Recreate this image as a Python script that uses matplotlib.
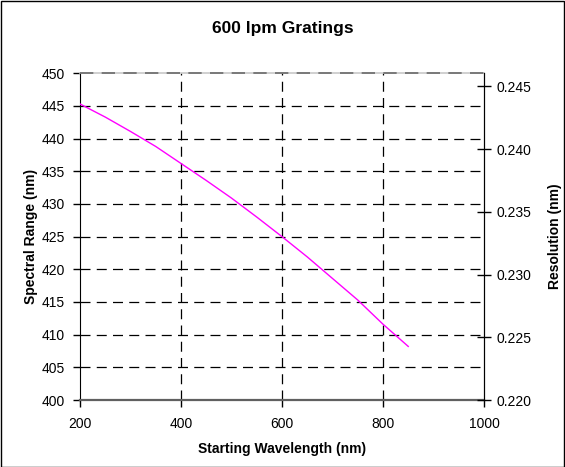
import matplotlib
matplotlib.use("Agg")
import matplotlib.pyplot as plt
from matplotlib.patches import Rectangle

plt.rcParams['font.family'] = ['Liberation Sans', 'DejaVu Sans']

wavelength = [200, 250, 300, 350, 400, 450, 500, 550, 600, 650, 700, 750, 800, 850]
spectral_range = [445.3, 443.3, 441.1, 438.8, 436.2, 433.6, 430.9, 428.0, 425.0,
                  421.9, 418.6, 415.3, 411.6, 408.2]
x_ticks = [200, 400, 600, 800, 1000]
left_ticks = [400, 405, 410, 415, 420, 425, 430, 435, 440, 445, 450]
right_ticks = [0.220, 0.225, 0.230, 0.235, 0.240, 0.245]

fig = plt.figure(figsize=(5.65, 4.67), dpi=100)
ax = fig.add_axes([80/565, 67/467, 404/565, 326.7/467])

ax.plot(wavelength, spectral_range, color='#FF00FF', lw=1.0, zorder=3)
ax.set_xlim(200, 1000)
ax.set_ylim(400, 450)
ax.set_xticks(x_ticks)
ax.set_yticks(left_ticks)
ax.set_xticklabels([str(v) for v in x_ticks])
ax.set_yticklabels([str(v) for v in left_ticks])

for v in [400, 600, 800]:
    ax.axvline(v, color='black', lw=0.9, ls=(0, (8, 5)), zorder=1)
for v in left_ticks[1:-1]:
    ax.axhline(v, color='black', lw=0.9, ls=(0, (8, 5)), zorder=1)
ax.axhline(450, color='#6a6a6a', lw=1.2, ls=(0, (8, 5)), zorder=4, clip_on=False)

ax.spines['top'].set_color('#c8c8c8')
ax.spines['top'].set_linewidth(1.2)
ax.spines['bottom'].set_color('#606060')
ax.spines['bottom'].set_linewidth(1.6)
ax.spines['left'].set_color('black')
ax.spines['right'].set_color('black')

ax.tick_params(axis='y', direction='out', length=5, width=1, labelsize=10, pad=6)
ax.tick_params(axis='x', direction='out', length=5, width=1, labelsize=10, pad=7)

ax.set_xlabel('Starting Wavelength (nm)', fontsize=10, fontweight='bold', labelpad=8)
ax.set_ylabel('Spectral Range (nm)', fontsize=10, fontweight='bold', labelpad=2.5)

ax2 = ax.twinx()
ax2.set_ylim(0.220, 0.24605)
ax2.set_yticks(right_ticks)
ax2.set_yticklabels(['%.3f' % v for v in right_ticks])
ax2.tick_params(axis='y', direction='inout', length=10, width=1, labelsize=10, pad=4)
ax2.set_ylabel('Resolution (nm)', fontsize=10, fontweight='bold', labelpad=12)
for s in ['top', 'bottom', 'left']:
    ax2.spines[s].set_visible(False)
ax2.spines['right'].set_color('black')

fig.text(0.5, 1 - 28/467, '600 lpm Gratings', ha='center', va='center',
         fontsize=12.5, fontweight='bold')

fig.patches.append(Rectangle((0.001, 0.001), 0.997, 0.997, transform=fig.transFigure,
                             fill=False, edgecolor='black', lw=1.0))

fig.savefig('out.png', dpi=100)
